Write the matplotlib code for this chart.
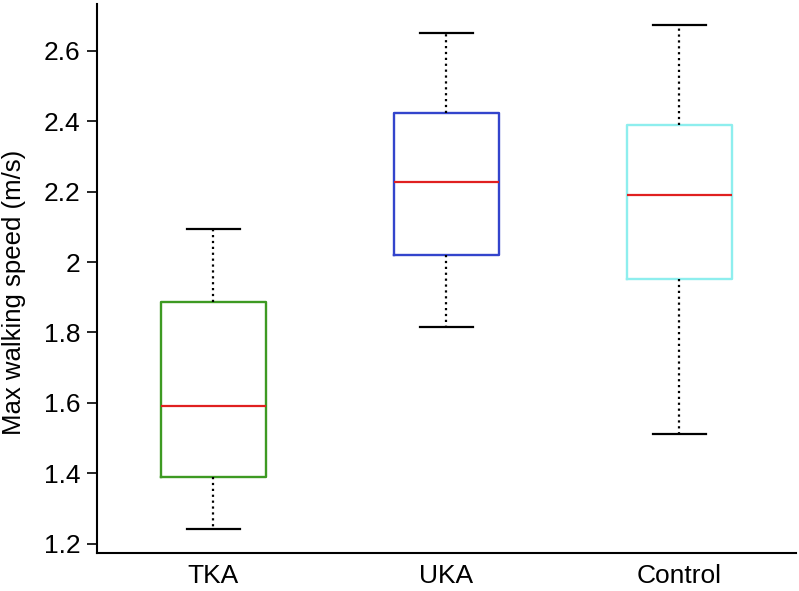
import matplotlib
matplotlib.use("Agg")
import matplotlib.pyplot as plt

# data
groups = ["TKA", "UKA", "Control"]
whislo = [1.243, 1.816, 1.512]
q1 = [1.390, 2.020, 1.952]
med = [1.591, 2.227, 2.190]
q3 = [1.887, 2.423, 2.389]
whishi = [2.094, 2.650, 2.672]
box_colors = ["#3d9a22", "#3344cc", "#8eeeee"]

plt.rcParams["font.family"] = ["Liberation Sans", "DejaVu Sans"]

fig = plt.figure(figsize=(7.99, 5.91), dpi=100)
ax = fig.add_axes([0.1214, 0.0643, 0.8746, 0.9287])

stats = []
for i in range(len(groups)):
    stats.append({"label": groups[i], "whislo": whislo[i], "q1": q1[i],
                  "med": med[i], "q3": q3[i], "whishi": whishi[i], "fliers": []})

bp = ax.bxp(stats, positions=[1, 2, 3], widths=0.45, showfliers=False,
            boxprops=dict(linewidth=1.7),
            whiskerprops=dict(linestyle=":", linewidth=1.6, color="black"),
            capprops=dict(linewidth=1.6, color="black"),
            medianprops=dict(linewidth=1.6, color="#e02020"),
            capwidths=0.23)

for box, c in zip(bp["boxes"], box_colors):
    box.set_color(c)

ax.set_xlim(0.5, 3.5)
ax.set_ylim(1.174, 2.732)
ax.set_yticks([1.2, 1.4, 1.6, 1.8, 2.0, 2.2, 2.4, 2.6])
ax.set_yticklabels(["1.2", "1.4", "1.6", "1.8", "2", "2.2", "2.4", "2.6"])
ax.tick_params(axis="y", labelsize=19, length=7, width=1.2, pad=5)
ax.tick_params(axis="x", labelsize=19, length=0, pad=8)
ax.set_ylabel("Max walking speed (m/s)", fontsize=18.5)
ax.yaxis.set_label_coords(-0.102, 0.475)

ax.spines["top"].set_visible(False)
ax.spines["right"].set_visible(False)
ax.spines["left"].set_linewidth(1.5)
ax.spines["bottom"].set_linewidth(1.5)

fig.savefig("out.png", dpi=100)
